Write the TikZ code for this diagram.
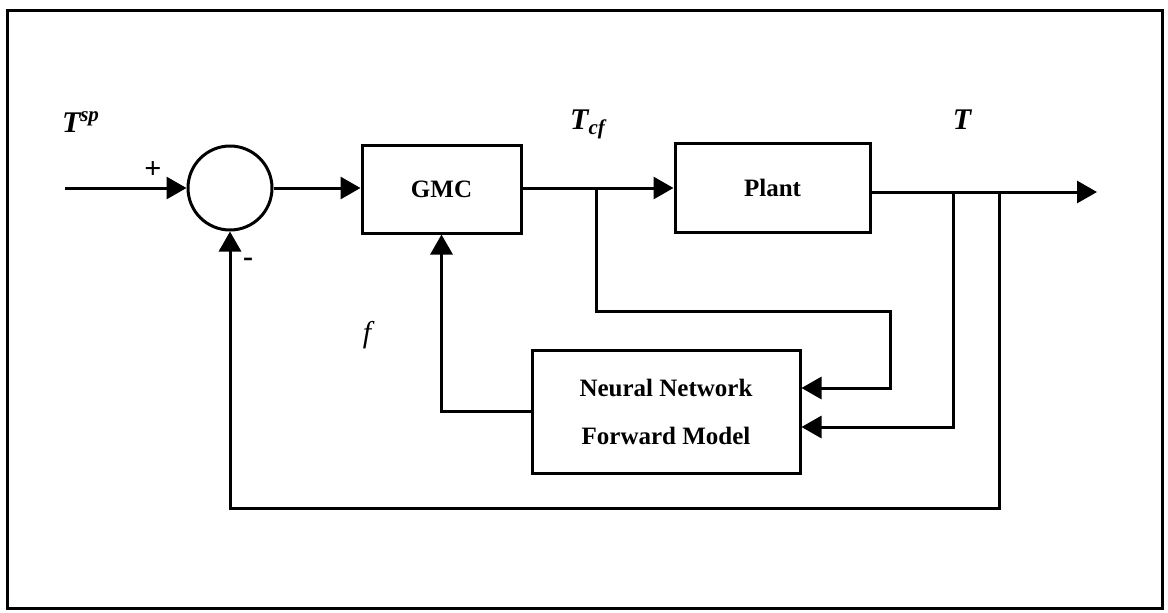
\documentclass[tikz,border=0pt]{standalone}
\usepackage{fontspec}
\setmainfont{Liberation Serif}
\usetikzlibrary{arrows.meta,calc}

\tikzset{
  wire/.style={line width=1.5pt},
  sig/.style={wire,-{Triangle[length=10pt,width=11pt]}},
  block/.style={draw,line width=1.5pt,rectangle,inner sep=0pt,font=\fontsize{12.5}{15}\selectfont\bfseries},
  junction/.style={draw,line width=1.5pt,circle,inner sep=0pt,minimum size=42pt},
  varlabel/.style={font=\fontsize{15}{17}\selectfont\bfseries\itshape,inner sep=0pt},
  signlabel/.style={font=\fontsize{15}{17}\selectfont\bfseries,inner sep=0pt}
}

\begin{document}
\begin{tikzpicture}[x=0.5pt,y=-0.5pt]
  \useasboundingbox (0,0) rectangle (1168,612);
  % outer frame
  \draw[line width=1.5pt] (7,10) rectangle (1162,608);

  % blocks
  \node[junction] (sum) at (230,188) {};
  \node[block,minimum width=79.5pt,minimum height=44pt] (gmc) at (441.5,189) {GMC};
  \node[block,minimum width=97.5pt,minimum height=44.5pt] (plant) at (772.5,188) {Plant};
  \node[block,minimum width=134pt,minimum height=61.5pt,align=center] (nn) at (666,411.5)
    {Neural Network\\[9pt]Forward Model};

  % signal points
  \coordinate (in) at (65,188);
  \coordinate (pout) at ([yshift=-2pt]plant.east);
  \coordinate (out) at (pout -| 1097,0);
  \coordinate (tcf) at (596,188);
  \coordinate (tcfcorner) at (890,311);
  \coordinate (tb1) at (pout -| 953,0);
  \coordinate (tb2) at (pout -| 999,0);
  \coordinate (nnin1) at (nn.east |- 0,388);
  \coordinate (nnin2) at (nn.east |- 0,427);
  \coordinate (fbbottom) at (999,508);

  % forward path
  \draw[sig] (in) -- (sum.west);
  \draw[sig] (sum.east) -- (sum.east -| gmc.west);
  \draw[sig] (gmc.east |- tcf) -- (tcf -| plant.west);
  \draw[sig] (pout) -- (out);

  % model inputs
  \draw[sig] (tcf) |- (tcfcorner) |- (nnin1);
  \draw[sig] (tb1) |- (nnin2);

  % model output to GMC
  \draw[sig] (nn.west) -| (gmc.south);

  % feedback to the summing junction
  \draw[sig] (tb2) -- (fbbottom) -| (sum.south);

  % labels
  \node[varlabel] (lsp) at (81,122) {T\textsuperscript{sp}};
  \node[varlabel] (lcf) at (588,124) {T\textsubscript{cf}};
  \node[varlabel] (lt) at (962,120) {T};
  \node[varlabel,font=\fontsize{15}{17}\selectfont\itshape] (lf) at (367,335) {f};
  \node[signlabel] (lplus) at (153,170) {+};
  \node[signlabel] (lminus) at (248,262) {-};
\end{tikzpicture}
\end{document}
